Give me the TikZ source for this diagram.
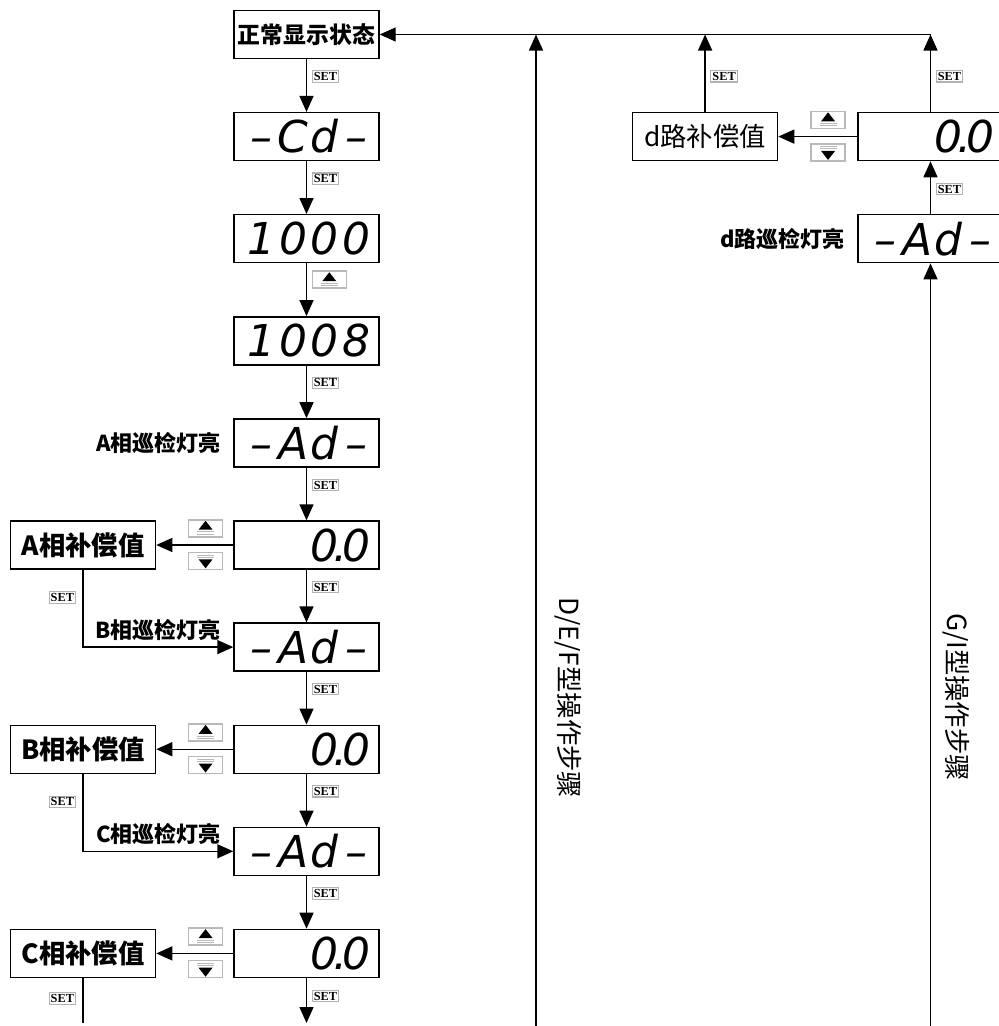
\documentclass[tikz,border=0pt]{standalone}
\usepackage{fontspec}
\setmainfont{Noto Sans CJK SC}
\newfontfamily\segfont{DejaVu Sans}
\newfontfamily\keyfont{Liberation Serif}
\usepackage{tikz}
\usetikzlibrary{arrows.meta,positioning}

\newcommand\sd[1]{\makebox[0.63cm]{#1}}

\begin{document}
\begin{tikzpicture}[->, >={Triangle[length=0.32cm,width=0.28cm]}, line width=0.8pt, node distance=2.042cm]

\tikzstyle{panel}=[draw, minimum width=2.9cm, minimum height=0.96cm, inner sep=0pt]
\tikzstyle{disp}=[panel, text width=2.62cm, align=right, font=\segfont\itshape\fontsize{25}{25}\selectfont]
\tikzstyle{namebox}=[panel, font=\bfseries\fontsize{15}{15}\selectfont]
\tikzstyle{lamp}=[inner sep=0pt, font=\bfseries\fontsize{12.5}{12.5}\selectfont]
\tikzstyle{vtxt}=[inner sep=0pt, rotate=-90, font=\fontsize{15}{15}\selectfont]
\tikzstyle{setkey}=[draw=gray!60, line width=0.6pt, inner sep=0.9pt, font=\keyfont\bfseries\fontsize{7}{7}\selectfont]
\tikzstyle{setr}=[setkey, pos=0.33, right=3pt]
\tikzstyle{keybox}=[draw=gray!55, line width=0.9pt, minimum width=0.68cm, minimum height=0.34cm, inner sep=0pt]
\tikzstyle{upkey}=[keybox, path picture={
    \fill[shift={(path picture bounding box.center)}] (0,0.15) -- (-0.14,-0.03) -- (0.14,-0.03) -- cycle;
    \draw[-, shift={(path picture bounding box.center)}, line width=0.45pt]
        (-0.17,-0.07) -- (0.17,-0.07) (-0.17,-0.115) -- (0.17,-0.115);
}]
\tikzstyle{dnkey}=[keybox, path picture={
    \fill[shift={(path picture bounding box.center)}] (0,-0.15) -- (-0.14,0.03) -- (0.14,0.03) -- cycle;
    \draw[-, shift={(path picture bounding box.center)}, line width=0.45pt]
        (-0.17,0.07) -- (0.17,0.07) (-0.17,0.115) -- (0.17,0.115);
}]

\useasboundingbox (0,0) rectangle (19.98,-20.52);

% main column
\node[panel, font=\bfseries\fontsize{13}{13}\selectfont] (normal) at (6.13,-0.69) {正常显示状态};
\node[disp] (cd) [below of=normal] {\sd{–}\sd{C}\sd{d}\sd{–}};
\node[disp] (n1000) [below of=cd] {\sd{1}\sd{0}\sd{0}\sd{0}};
\node[disp] (n1008) [below of=n1000] {\sd{1}\sd{0}\sd{0}\sd{8}};
\node[disp] (aAd) [below of=n1008] {\sd{–}\sd{A}\sd{d}\sd{–}};
\node[disp] (aVal) [below of=aAd] {\sd{0}\makebox[0pt]{.}\sd{0}};
\node[disp] (bAd) [below of=aVal] {\sd{–}\sd{A}\sd{d}\sd{–}};
\node[disp] (bVal) [below of=bAd] {\sd{0}\makebox[0pt]{.}\sd{0}};
\node[disp] (cAd) [below of=bVal] {\sd{–}\sd{A}\sd{d}\sd{–}};
\node[disp] (cVal) [below of=cAd] {\sd{0}\makebox[0pt]{.}\sd{0}};

\node[namebox] (aComp) [left=1.54cm of aVal] {A相补偿值};
\node[namebox] (bComp) [left=1.54cm of bVal] {B相补偿值};
\node[namebox] (cComp) [left=1.54cm of cVal] {C相补偿值};
\node[lamp] (aLab) [left=0.24cm of aAd] {A相巡检灯亮};

% right column
\coordinate (rcol) at (18.61,0);
\node[disp] (dVal) at (cd -| rcol) {\sd{0}\makebox[0pt]{.}\sd{0}};
\node[disp] (dAd) [below of=dVal] {\sd{–}\sd{A}\sd{d}\sd{–}};
\node[panel, font=\fontsize{15}{15}\selectfont] (dComp) [left=1.58cm of dVal] {d路补偿值};
\node[lamp] (dLab) [left=0.24cm of dAd] {d路巡检灯亮};

\node[vtxt] (defTxt) at (11.36,-13.96) {D/E/F型操作步骤};
\node[vtxt] (giTxt) at (19.12,-13.94) {G/I型操作步骤};

\coordinate (bot) at (6.13,-20.46);
\coordinate (defBot) at (10.72,-20.52);
\coordinate (giBot) at (18.61,-20.52);

\path
(normal) edge node[setr] (k1) {SET} (cd)
(cd) edge node[setr] (k2) {SET} (n1000)
(n1000) edge node[upkey, pos=0.31, right=0.1cm] (k3) {} (n1008)
(n1008) edge node[setr] (k4) {SET} (aAd)
(aAd) edge node[setr] (k5) {SET} (aVal)
(aVal) edge node[setr] (k6) {SET} (bAd)
(bAd) edge node[setr] (k7) {SET} (bVal)
(bVal) edge node[setr] (k8) {SET} (cAd)
(cAd) edge node[setr] (k9) {SET} (cVal)
(cVal) edge node[setr, pos=0.4] (k10) {SET} (bot)
(aVal) edge node[upkey, pos=0.36, above=0.15cm] (aUp) {} node[dnkey, pos=0.36, below=0.13cm] (aDn) {} (aComp)
(bVal) edge node[upkey, pos=0.36, above=0.15cm] (bUp) {} node[dnkey, pos=0.36, below=0.13cm] (bDn) {} (bComp)
(cVal) edge node[upkey, pos=0.36, above=0.15cm] (cUp) {} node[dnkey, pos=0.36, below=0.13cm] (cDn) {} (cComp)
(dVal) edge node[upkey, pos=0.37, above=0.15cm] (dUp) {} node[dnkey, pos=0.37, below=0.13cm] (dDn) {} (dComp)
(dComp) edge node[setr, pos=0.46] (k12) {SET} (dComp |- normal)
(dVal) edge node[setr, pos=0.46] (k13) {SET} (dVal |- normal)
(dAd) edge node[setr, pos=0.47] (k14) {SET} (dVal)
(giBot) edge (dAd)
(defBot) edge (defBot |- normal);

\draw (dVal.north |- normal.east) -- (normal);

\draw (aComp) |- node[setkey, pos=0.18, left=0.14cm] (k15) {SET}
    node[lamp, pos=0.96, anchor=south east, yshift=0.12cm] (bLab) {B相巡检灯亮} (bAd);
\draw (bComp) |- node[setkey, pos=0.18, left=0.14cm] (k16) {SET}
    node[lamp, pos=0.96, anchor=south east, yshift=0.12cm] (cLab) {C相巡检灯亮} (cAd);
\draw[-] (cComp) -- node[setkey, pos=0.45, left=0.14cm] (k17) {SET} (cComp |- bot);

\end{tikzpicture}
\end{document}
